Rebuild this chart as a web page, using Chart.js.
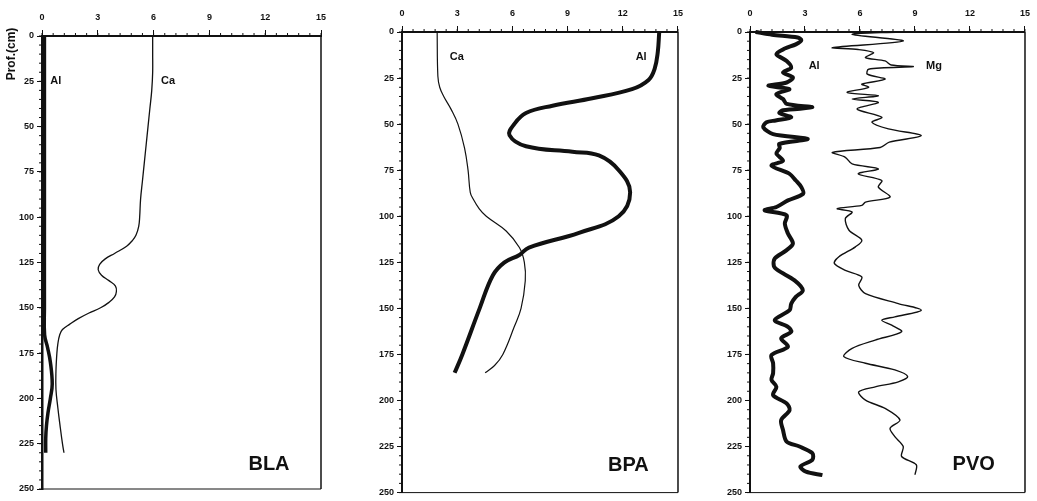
<!DOCTYPE html>
<html>
<head>
<meta charset="utf-8">
<script src="https://cdn.jsdelivr.net/npm/chart.js@4"></script>
<style>
  html, body { margin: 0; padding: 0; background: #fff; }
  #wrap { position: relative; width: 1037px; height: 501px; overflow: hidden; }
  canvas { position: absolute; top: 0; }
</style>
</head>
<body>
<div id="wrap">
  <canvas id="bla" width="340" height="501" style="left:0px"></canvas>
  <canvas id="bpa" width="350" height="501" style="left:340px"></canvas>
  <canvas id="pvo" width="347" height="501" style="left:690px"></canvas>
</div>
<script>
// tick labels
const xTicks = [0, 3, 6, 9, 12, 15];
const yTicks = [0, 25, 50, 75, 100, 125, 150, 175, 200, 225, 250];

// BLA profile
const blaAlDepth = [0, 50, 100, 150, 165, 172, 180, 192, 200, 208, 215, 222, 230];
const blaAl = [0.13, 0.13, 0.13, 0.13, 0.14, 0.3, 0.45, 0.55, 0.45, 0.32, 0.24, 0.2, 0.2];
const blaCaDepth = [0, 10, 20, 30, 40, 50, 60, 70, 80, 90, 100, 105, 110, 113, 116, 120, 123, 126, 129, 132, 135, 138, 141, 144, 147, 150, 153, 156, 159, 162, 165, 170, 175, 185, 195, 205, 215, 225, 230];
const blaCa = [5.95, 5.95, 5.95, 5.9, 5.8, 5.7, 5.6, 5.5, 5.4, 5.3, 5.25, 5.2, 5.05, 4.85, 4.55, 3.9, 3.4, 3.1, 3.02, 3.2, 3.6, 3.95, 4.0, 3.9, 3.6, 3.15, 2.5, 1.95, 1.5, 1.1, 0.95, 0.85, 0.8, 0.75, 0.75, 0.85, 0.97, 1.1, 1.18];

// BPA profile
const bpaAlDepth = [0, 11, 20, 26, 31, 36, 40, 44, 50, 56, 62, 65, 67, 75, 87, 100, 109, 117, 121, 125, 132, 150, 175, 185];
const bpaAl = [13.98, 13.9, 13.73, 13.4, 12.5, 10.34, 8.18, 6.74, 6.1, 5.84, 6.74, 9.26, 10.7, 11.78, 12.4, 11.78, 9.62, 6.9, 6.38, 5.57, 4.94, 4.22, 3.28, 2.86];
const bpaCaDepth = [0, 24, 30, 35, 42, 50, 63, 75, 87, 90.5, 96, 100, 108, 117, 125, 135, 150, 160, 175, 181, 185];
const bpaCa = [1.91, 1.95, 2.05, 2.27, 2.67, 3.04, 3.4, 3.59, 3.71, 3.86, 4.2, 4.58, 5.66, 6.38, 6.65, 6.7, 6.47, 6.1, 5.48, 5.03, 4.52];

// PVO profile
const pvoAlDepth = [0, 1.5, 3, 4.5, 6.7, 9, 12, 15.7, 19.3, 22, 24.7, 27.4, 29.2, 31, 33.7, 36.4, 39, 40.9, 42.5, 44, 46.3, 48, 49, 51.7, 55.4, 58, 60.7, 63, 66, 69.9, 72.5, 77, 80.6, 84.2, 87.8, 91.4, 95, 96.8, 99.5, 104, 109.4, 114.8, 118.4, 122.9, 127, 129.4, 134.8, 140.2, 143.8, 147.4, 151, 156.4, 160, 162.7, 166.3, 170.8, 175.3, 179.8, 185.2, 188.8, 192.6, 197.1, 201.6, 205.2, 210.6, 216, 222.3, 225, 228.6, 232.2, 235.8, 238.6, 240.5];
const pvoAl = [0.3, 1.2, 2.6, 2.8, 2.5, 1.9, 1.44, 2.0, 2.25, 1.8, 2.34, 2.0, 1.0, 2.15, 1.44, 1.8, 2.0, 3.4, 1.8, 1.6, 2.25, 1.4, 0.9, 0.72, 1.26, 3.15, 1.6, 1.62, 1.44, 1.8, 1.17, 2.16, 2.5, 2.8, 2.9, 2.07, 1.44, 0.8, 2.0, 1.9, 2.07, 2.34, 2.0, 1.35, 1.3, 1.53, 2.43, 2.88, 2.5, 2.25, 2.16, 1.35, 2.07, 2.25, 1.7, 2.07, 1.17, 1.26, 1.26, 1.17, 1.44, 1.26, 2.0, 2.16, 1.7, 1.8, 2.0, 2.7, 3.4, 3.4, 2.75, 3.05, 3.95];
const pvoMgDepth = [0, 1.3, 4.9, 8.5, 9.5, 11.2, 13.9, 15.7, 17.9, 18.8, 20.2, 22.9, 25.6, 28.3, 30, 32.8, 34.6, 36.4, 38.2, 41.8, 46.3, 49, 52.6, 56.2, 59.8, 62.7, 65.3, 68, 71.6, 74.3, 77, 80.6, 84.2, 89.6, 92.3, 94.1, 95.9, 97.7, 101.3, 107.6, 113, 116.6, 122, 125.6, 129.4, 133, 137.5, 142, 147.4, 151, 154.6, 156.4, 159.1, 162.7, 167.2, 171.7, 176.2, 179.8, 183.4, 187, 189.9, 192.6, 195.3, 199.8, 204.3, 210.6, 215.1, 219.6, 225, 230.4, 234.9, 240.3];
const pvoMg = [8.09, 5.57, 8.36, 4.5, 5.9, 6.74, 6.3, 7.37, 7.7, 8.9, 6.47, 6.4, 7.37, 6.1, 6.47, 5.3, 7.0, 5.57, 7.0, 5.84, 7.19, 6.65, 7.55, 9.34, 7.6, 7.1, 4.5, 5.2, 5.57, 7.0, 5.9, 7.19, 7.0, 7.64, 6.3, 6.1, 4.76, 5.57, 5.2, 5.4, 6.1, 5.75, 4.85, 4.6, 5.2, 6.1, 5.93, 6.3, 8.09, 9.34, 7.9, 7.19, 7.73, 8.27, 6.83, 5.57, 5.12, 6.3, 7.9, 8.6, 8.09, 6.83, 5.93, 6.3, 7.37, 8.18, 7.64, 7.9, 8.36, 8.27, 9.07, 9.0];

const FONT = '"Liberation Sans", Arial, sans-serif';

function pts(depths, vals) {
  return vals.map((v, i) => ({ x: v, y: depths[i] }));
}

// right/bottom frame, minor ticks and in-plot labels
const panelDecor = {
  id: 'panelDecor',
  afterDraw(chart, args, opts) {
    const { ctx, chartArea: a, scales: { x, y } } = chart;
    ctx.save();
    ctx.strokeStyle = '#111';
    ctx.lineWidth = 1.5;
    ctx.beginPath();
    ctx.moveTo(a.right, a.top);
    ctx.lineTo(a.right, a.bottom);
    ctx.stroke();
    ctx.lineWidth = 1;
    ctx.beginPath();
    ctx.moveTo(a.left, a.bottom);
    ctx.lineTo(a.right, a.bottom);
    ctx.stroke();

    ctx.beginPath();
    for (let i = 0; i <= 25; i++) {
      const px = x.getPixelForValue(i * 0.6);
      ctx.moveTo(px, a.top);
      ctx.lineTo(px, a.top - 3);
    }
    for (let i = 0; i <= 50; i++) {
      const py = y.getPixelForValue(i * 5);
      ctx.moveTo(a.left, py);
      ctx.lineTo(a.left - 3, py);
    }
    ctx.stroke();

    ctx.fillStyle = '#111';
    ctx.textBaseline = 'middle';
    ctx.textAlign = 'left';
    (opts.labels || []).forEach(l => {
      ctx.font = `bold ${l.size}px ${FONT}`;
      ctx.fillText(l.text, x.getPixelForValue(l.x), y.getPixelForValue(l.y));
    });

    if (opts.yTitle) {
      ctx.font = `bold 12px ${FONT}`;
      ctx.textAlign = 'center';
      ctx.translate(12, y.top + 18);
      ctx.rotate(-Math.PI / 2);
      ctx.fillText(opts.yTitle, 0, 0);
    }
    ctx.restore();
  }
};

function makePanel(id, cfg) {
  return new Chart(document.getElementById(id), {
    type: 'scatter',
    data: {
      datasets: cfg.series.map(s => ({
        data: s.data,
        showLine: true,
        borderColor: '#111',
        borderWidth: s.width,
        pointRadius: 0,
        tension: s.tension,
        fill: false,
        clip: 4
      }))
    },
    plugins: [panelDecor],
    options: {
      responsive: false,
      animation: false,
      layout: { padding: { left: 0, top: 0, right: cfg.padRight, bottom: cfg.padBottom } },
      plugins: {
        legend: { display: false },
        tooltip: { enabled: false },
        panelDecor: { labels: cfg.labels, yTitle: cfg.yTitle }
      },
      scales: {
        x: {
          type: 'linear',
          position: 'top',
          min: 0,
          max: 15,
          afterBuildTicks: s => { s.ticks = xTicks.map(v => ({ value: v })); },
          afterFit: s => { s.height = cfg.top; },
          ticks: {
            autoSkip: false,
            maxRotation: 0,
            padding: cfg.xPad,
            color: '#111',
            font: { family: FONT, size: 9, weight: 'bold' }
          },
          grid: { drawOnChartArea: false, drawTicks: true, tickLength: 6, color: '#111', lineWidth: 1 },
          border: { display: true, color: '#111', width: 2 }
        },
        y: {
          type: 'linear',
          position: 'left',
          reverse: true,
          min: 0,
          max: 250,
          afterBuildTicks: s => { s.ticks = yTicks.map(v => ({ value: v })); },
          afterFit: s => { s.width = cfg.left; },
          ticks: {
            autoSkip: false,
            padding: 3,
            color: '#111',
            font: { family: FONT, size: 9, weight: 'bold' }
          },
          grid: { drawOnChartArea: false, drawTicks: true, tickLength: 5, color: '#111', lineWidth: 1 },
          border: { display: true, color: '#111', width: cfg.leftWidth }
        }
      }
    }
  });
}

makePanel('bla', {
  left: 42, top: 36, padRight: 19, padBottom: 12, xPad: 7, leftWidth: 2.5,
  yTitle: 'Prof.(cm)',
  series: [
    { data: pts(blaAlDepth, blaAl), width: 3.5, tension: 0.4 },
    { data: pts(blaCaDepth, blaCa), width: 1.3, tension: 0.4 }
  ],
  labels: [
    { text: 'Al', x: 0.45, y: 25, size: 11 },
    { text: 'Ca', x: 6.4, y: 25, size: 11 },
    { text: 'BLA', x: 11.1, y: 236.5, size: 20 }
  ]
});

makePanel('bpa', {
  left: 62, top: 32, padRight: 12, padBottom: 6, xPad: 7, leftWidth: 2,
  series: [
    { data: pts(bpaAlDepth, bpaAl), width: 4, tension: 0.4 },
    { data: pts(bpaCaDepth, bpaCa), width: 1.2, tension: 0.4 }
  ],
  labels: [
    { text: 'Ca', x: 2.6, y: 13.5, size: 11 },
    { text: 'Al', x: 12.7, y: 13.5, size: 11 },
    { text: 'BPA', x: 11.2, y: 235.5, size: 20 }
  ]
});

makePanel('pvo', {
  left: 60, top: 32, padRight: 9, padBottom: 6, xPad: 7, leftWidth: 2,
  series: [
    { data: pts(pvoAlDepth, pvoAl), width: 4, tension: 0.3 },
    { data: pts(pvoMgDepth, pvoMg), width: 1.4, tension: 0.3 }
  ],
  labels: [
    { text: 'Al', x: 3.2, y: 18.5, size: 11 },
    { text: 'Mg', x: 9.6, y: 18.5, size: 11 },
    { text: 'PVO', x: 11.05, y: 234.5, size: 20 }
  ]
});
</script>
</body>
</html>
